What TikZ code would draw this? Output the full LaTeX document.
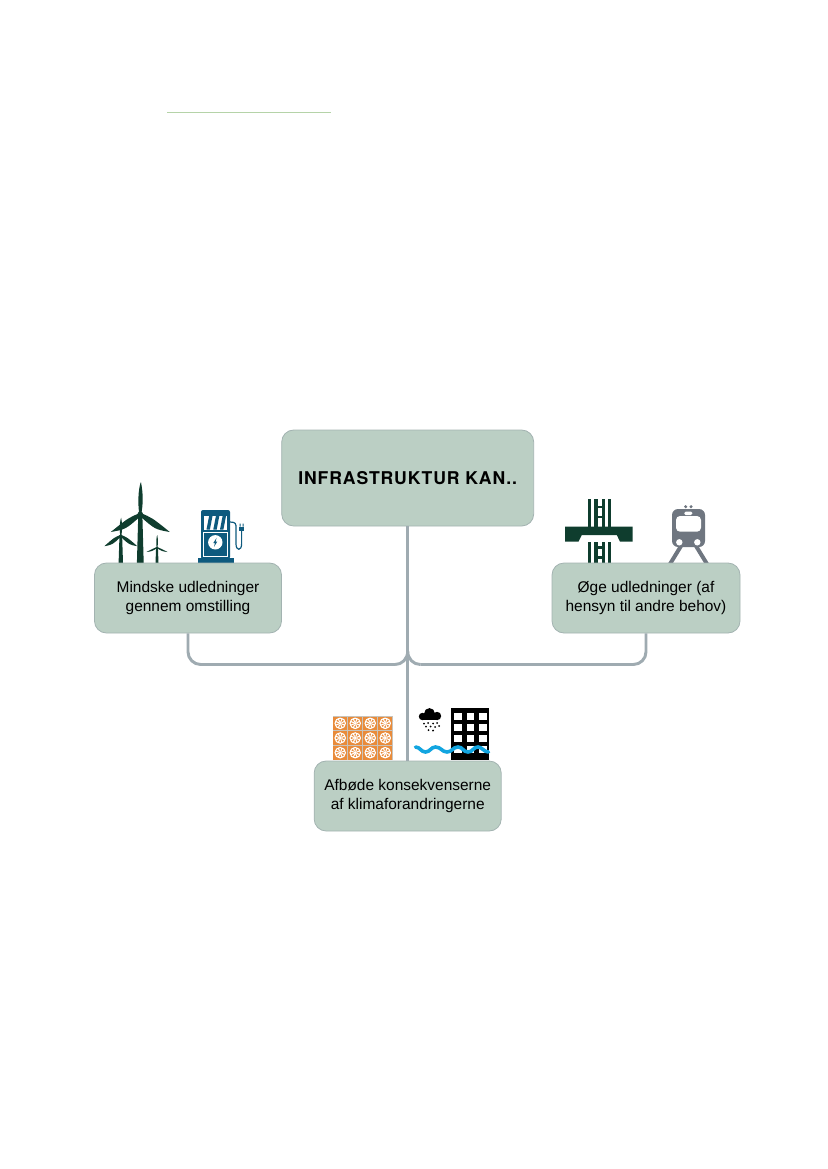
\documentclass[tikz,border=0pt]{standalone}
\usepackage{fontspec}
\setmainfont{Liberation Sans}
\newfontfamily\titlefont[LetterSpace=5]{TeX Gyre Heros Bold}
\begin{document}
\begin{tikzpicture}[x=0.75pt,y=-0.75pt,
  box/.style={draw=boxline,line width=0.6pt,fill=boxfill,rounded corners=9pt,inner sep=0pt,align=center,
    font=\fontsize{11.6pt}{14pt}\selectfont,text=black},
  link/.style={draw=linkgrey,line width=2.2pt},
  chargerline/.style={draw=charger,line width=0.9pt,line cap=round}]
\definecolor{boxfill}{HTML}{BBCFC4}
\definecolor{boxline}{HTML}{A3B3B1}
\definecolor{linkgrey}{HTML}{9FABB1}
\definecolor{turbine}{HTML}{0F3D2E}
\definecolor{charger}{HTML}{0E5A7E}
\definecolor{trainc}{HTML}{6F7680}
\definecolor{tile}{HTML}{E98B3A}
\definecolor{tilegap}{HTML}{C8C4BC}
\definecolor{flood}{HTML}{12A5E0}
\definecolor{headerline}{HTML}{B5D3A8}
\useasboundingbox (0,0) rectangle (827,1169);

% rule at the head of the page
\draw[headerline,line width=0.9pt] (167.3,112.4) -- (331,112.4);

% wind turbines
\newcommand{\turbineicon}[6]{% hub x, hub y, up, side dx, side dy, tower half width
  \fill[turbine] (#1-0.6*#6,#2) -- (#1+0.6*#6,#2) -- (#1+#6,563) -- (#1-#6,563) -- cycle;
  \fill[turbine] (#1-0.03*#3,#2) .. controls (#1-0.1*#3,#2-0.5*#3) and (#1-0.03*#3,#2-0.9*#3) .. (#1+0.02*#3,#2-#3)
     .. controls (#1+0.1*#3,#2-0.6*#3) and (#1+0.08*#3,#2-0.3*#3) .. (#1+0.03*#3,#2) -- cycle;
  \fill[turbine] (#1,#2-0.05*#3) .. controls (#1-0.4*#4,#2+0.1*#3) .. (#1-#4,#2+#5)
     .. controls (#1-0.5*#4,#2+#5*0.85) .. (#1,#2+0.06*#3) -- cycle;
  \fill[turbine] (#1,#2-0.05*#3) .. controls (#1+0.4*#4,#2+0.1*#3) .. (#1+#4,#2+#5)
     .. controls (#1+0.5*#4,#2+#5*0.85) .. (#1,#2+0.06*#3) -- cycle;
  \fill[turbine] (#1,#2) circle[radius=0.09*#3];
}
\turbineicon{140.3}{514.5}{32.5}{29.5}{17.5}{3.4}
\turbineicon{120.8}{535.7}{18}{16.5}{10.5}{2.2}
\turbineicon{157}{547.5}{12.5}{10.5}{4.5}{1.5}

% charging station
\fill[charger,rounded corners=1.5pt] (201,510) rectangle (230,559);
\fill[charger] (197.5,557.7) rectangle (233.5,563);
\fill[white] (204,516) rectangle (227,529.5);
\foreach \sx in {208.5,215.3,222}
  \fill[charger] (\sx-2,529.5) -- (\sx+1.4,529.5) -- (\sx+4,516) -- (\sx+0.6,516) -- cycle;
\draw[white,line width=0.6pt] (203.5,532) rectangle (227.5,556.5);
\fill[white] (215.3,542.3) circle[radius=7.2];
\fill[charger] (216.6,537.8) -- (213.3,543) -- (215,543) -- (214,546.8) -- (217.3,541.6) -- (215.6,541.6) -- cycle;
\draw[chargerline] (230,522) .. controls (236,522) and (236,524) .. (236,528) -- (236,544)
  .. controls (236,551) and (241.6,551) .. (241.6,544) -- (241.6,531);
\fill[charger] (239,526.5) rectangle (244.2,531);
\fill[charger] (239.6,523.5) rectangle (240.6,526.5) (242.6,523.5) rectangle (243.6,526.5);

% road passing under a bridge
\foreach \ya/\yb in {499/526.7,541.7/563}{
  \fill[turbine] (588,\ya) rectangle (591,\yb);
  \fill[turbine] (594,\ya) rectangle (597.5,\yb);
  \fill[turbine] (601.5,\ya) rectangle (605,\yb);
  \fill[turbine] (607.5,\ya) rectangle (610.5,\yb);
}
\foreach \ya in {505.5,515.5,546,556}
  \fill[turbine] (597,\ya) rectangle (602,\ya+2.6);
\fill[turbine] (565,526.7) -- (632.7,526.7) -- (632.7,541.7) -- (620,541.7) -- (616.8,535) -- (581.8,535) -- (578.5,541.7) -- (565,541.7) -- cycle;

% train
\draw[trainc,line width=3pt] (681,546) -- (670,564) (696,546) -- (707,564);
\fill[trainc,rounded corners=4.5pt] (672,509) rectangle (705,547);
\fill[white,rounded corners=3pt] (676,516) rectangle (701,531.7);
\fill[white,rounded corners=1pt] (684.3,511.7) rectangle (692.3,515);
\fill[trainc] (685.7,506.7) circle[radius=1.7] (691,506.7) circle[radius=1.7];
\fill[white] (679.3,542.3) circle[radius=3.2] (697.3,542.3) circle[radius=3.2];

% cooling panels
\fill[tilegap] (332.7,716) rectangle (392.7,760);
\foreach \cx in {0,1,2,3}\foreach \cy in {0,1,2}{
  \begin{scope}[shift={(340.2+15*\cx,723.3+14.7*\cy)}]
    \fill[tile] (-7,-6.8) rectangle (7,6.8);
    \draw[white,line width=0.8pt] (0,0) circle[radius=5.2];
    \fill[white] (0,0) circle[radius=1.6];
    \foreach \ang in {22,67,...,360}
      \draw[white,line width=0.8pt] (\ang:1.5) -- (\ang:5.2);
  \end{scope}
}

% flooded building under a rain cloud
\fill[black] (451.3,708.3) rectangle (489,760);
\foreach \wx in {454,466.8,479}\foreach \wy in {713,724,734.7,746}
  \fill[white] (\wx,\wy) rectangle (\wx+7.5,\wy+6.8);
\fill[black] (422.5,716.5) circle[radius=3.7] (429.5,713.5) circle[radius=5.4] (437,716) circle[radius=4.2];
\fill[black] (422.5,716) rectangle (437,720.2);
\foreach \dx/\dy in {424/723.5,428/723,433/723.5,437/723,426/726.5,430.5/726.5,435/727,439/726,428.5/730,433/730.5}
  \fill[black] (\dx,\dy) circle[radius=1];
\draw[flood,line width=2.7pt,line cap=round] (415.5,747)
  .. controls (420,747) and (421,752) .. (425.5,752)
  .. controls (430,752) and (431,747) .. (435.5,747)
  .. controls (441,747) and (442,752) .. (447,752)
  .. controls (452,752) and (453,747) .. (458,747)
  .. controls (463,747) and (463,752) .. (468,752)
  .. controls (473,752) and (473,747) .. (478,747)
  .. controls (482,747) and (484,752) .. (488.5,752);

% the four labelled boxes
\node[box,minimum width=189pt,minimum height=72pt] (centre) at (407.7,478)
  {\titlefont\fontsize{13.2pt}{15pt}\selectfont INFRASTRUKTUR KAN..};
\node[box,minimum width=140.3pt,minimum height=52.5pt] (reduce) at (188,598)
  {Mindske udledninger\\gennem omstilling};
\node[box,minimum width=141pt,minimum height=52.5pt] (raise) at (646,598)
  {Øge udledninger (af\\hensyn til andre behov)};
\node[box,minimum width=140.3pt,minimum height=52.5pt] (adapt) at (407.7,796)
  {Afbøde konsekvenserne\\af klimaforandringerne};

% connectors joining on the trunk
\coordinate (join) at (407.7,651);
\coordinate (leftturn) at (395,664.5);
\coordinate (rightturn) at (420.4,664.5);
\draw[link] (centre.south) -- (adapt.north);
\draw[link,rounded corners=9.5pt] (reduce.south) |- (leftturn);
\draw[link] (leftturn) .. controls (402,664.5) and (407.7,659) .. (join);
\draw[link,rounded corners=9.5pt] (raise.south) |- (rightturn);
\draw[link] (rightturn) .. controls (413.4,664.5) and (407.7,659) .. (join);
\end{tikzpicture}
\end{document}
